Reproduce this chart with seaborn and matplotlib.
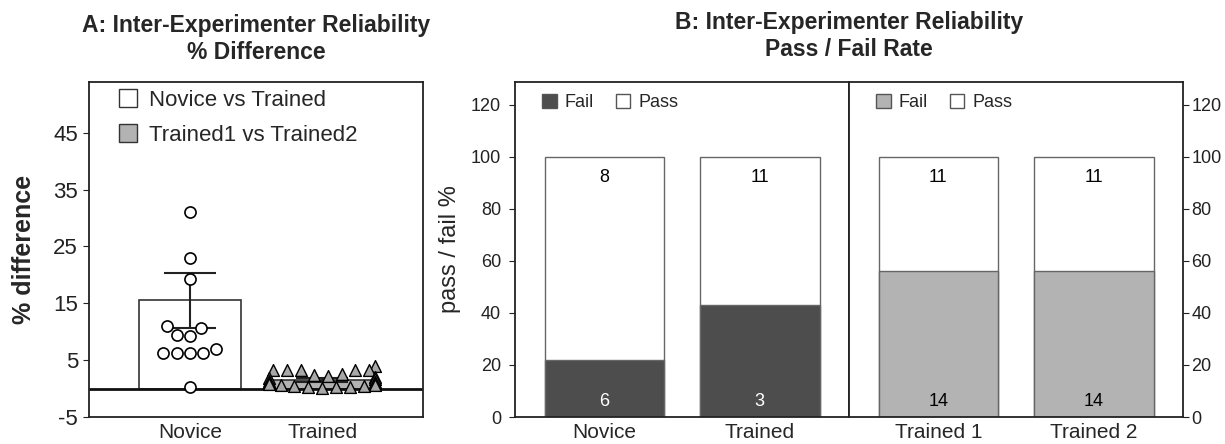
import numpy as np
import pandas as pd
import matplotlib
matplotlib.use('Agg')
import matplotlib.pyplot as plt
from matplotlib.patches import Patch
import seaborn as sns

# panel A data
diff_groups = ['Novice', 'Trained']
diff_mean = [15.5, 1.5]
diff_err = [4.8, 0.3]
novice_vals = [31.0, 23.0, 19.2, 10.6, 11.0, 9.3, 9.5, 6.3, 6.3, 6.3, 6.3, 7.0, 0.2]
trained_vals = [4.0, 3.3, 3.3, 3.2, 3.3, 3.2, 2.6, 2.4, 2.2, 2.0, 1.8, 1.6, 1.4,
                1.2, 1.0, 0.9, 0.8, 0.7, 0.6, 0.5, 0.4, 0.3, 0.3, 0.2, 0.1]

# panel B data
left_groups = ['Novice', 'Trained']
left_fail_pct = [22, 43]
left_pass_pct = [78, 57]
left_fail_n = [6, 3]
left_pass_n = [8, 11]

right_groups = ['Trained 1', 'Trained 2']
right_fail_pct = [56, 56]
right_pass_pct = [44, 44]
right_fail_n = [14, 14]
right_pass_n = [11, 11]

sns.set_style('ticks')
plt.rcParams['font.family'] = ['Liberation Sans', 'DejaVu Sans']
plt.rcParams['axes.unicode_minus'] = False
plt.rcParams['axes.edgecolor'] = '#222222'
plt.rcParams['axes.linewidth'] = 1.3
plt.rcParams['xtick.major.size'] = 0
plt.rcParams['ytick.major.size'] = 4
plt.rcParams['ytick.color'] = '#222222'

fig = plt.figure(figsize=(12.25, 4.44), dpi=100)
axA = fig.add_axes([0.0727, 0.0608, 0.2727, 0.7556])
axB1 = fig.add_axes([0.4204, 0.0608, 0.2727, 0.7556])
axB2 = fig.add_axes([0.6931, 0.0608, 0.2727, 0.7556])

# ---- panel A ----
sns.barplot(x=diff_groups, y=diff_mean, hue=diff_groups, order=diff_groups,
            palette=['white', '#b3b3b3'], legend=False, saturation=1,
            edgecolor='#333333', linewidth=1.2, width=0.77, zorder=1, ax=axA)
axA.errorbar(x=[0, 1], y=diff_mean, yerr=diff_err, fmt='none', ecolor='#222222',
             elinewidth=1.5, capsize=18.5, capthick=1.5, zorder=2)
axA.axhline(0, color='#111111', lw=2, zorder=2)
sns.swarmplot(x=['Novice'] * len(novice_vals), y=novice_vals, order=diff_groups,
              marker='o', color='white', edgecolor='black', linewidth=1.2,
              size=8, zorder=3, ax=axA)
sns.swarmplot(x=['Trained'] * len(trained_vals), y=trained_vals, order=diff_groups,
              marker='^', color='#a8a8a8', edgecolor='black', linewidth=1.0,
              size=8.5, zorder=3, warn_thresh=1, ax=axA)
axA.set_xlim(-0.765, 1.765)
axA.set_ylim(-5, 54)
axA.set_yticks([-5, 5, 15, 25, 35, 45])
axA.tick_params(axis='y', labelsize=16, pad=4)
axA.tick_params(axis='x', labelsize=15, pad=4)
axA.set_ylabel('% difference', fontsize=18, fontweight='bold', labelpad=12)
axA.set_title('A: Inter-Experimenter Reliability\n% Difference',
              fontsize=16.5, fontweight='bold', pad=16, linespacing=1.25)
legA = [Patch(facecolor='white', edgecolor='#333333', label='Novice vs Trained'),
        Patch(facecolor='#b3b3b3', edgecolor='#333333', label='Trained1 vs Trained2')]
axA.legend(handles=legA, loc='upper left', bbox_to_anchor=(0.065, 1.0),
           frameon=False, fontsize=16, handlelength=0.85, handleheight=0.85,
           handletextpad=0.5, labelspacing=0.6, borderaxespad=0.2, borderpad=0.15)


def stacked(ax, groups, fail_pct, pass_pct, fail_n, pass_n, fail_color, fail_text):
    total = [f + p for f, p in zip(fail_pct, pass_pct)]
    sns.barplot(x=groups, y=total, order=groups, color='white', saturation=1,
                edgecolor='#666666', linewidth=1.0, width=0.77, ax=ax)
    sns.barplot(x=groups, y=fail_pct, order=groups, color=fail_color, saturation=1,
                edgecolor='#666666', linewidth=1.0, width=0.77, ax=ax)
    for i in range(len(groups)):
        ax.text(i, 92, str(pass_n[i]), ha='center', va='center', fontsize=13,
                color='black')
        ax.text(i, 6, str(fail_n[i]), ha='center', va='center', fontsize=13,
                color=fail_text)
    ax.set_xlim(-0.575, 1.575)
    ax.set_ylim(0, 129)
    ax.set_yticks([0, 20, 40, 60, 80, 100, 120])
    ax.tick_params(axis='y', labelsize=13)
    ax.tick_params(axis='x', labelsize=15, pad=4)
    handles = [Patch(facecolor=fail_color, edgecolor='#555555', label='Fail'),
               Patch(facecolor='white', edgecolor='#555555', label='Pass')]
    ax.legend(handles=handles, loc='upper left', bbox_to_anchor=(0.06, 0.985),
              ncol=2, frameon=False, fontsize=13, handlelength=0.8,
              handleheight=0.8, handletextpad=0.45, columnspacing=1.2,
              borderaxespad=0.2, borderpad=0.2)


# ---- panel B ----
stacked(axB1, left_groups, left_fail_pct, left_pass_pct, left_fail_n, left_pass_n,
        '#4d4d4d', 'white')
stacked(axB2, right_groups, right_fail_pct, right_pass_pct, right_fail_n, right_pass_n,
        '#b3b3b3', 'black')
axB1.set_ylabel('pass / fail %', fontsize=17, labelpad=7)
axB1.tick_params(axis='y', pad=6)
axB2.yaxis.tick_right()
axB2.tick_params(axis='y', pad=2)
axB2.set_ylabel('')
fig.text(0.6931, 0.862, 'B: Inter-Experimenter Reliability\nPass / Fail Rate',
         ha='center', va='bottom', fontsize=16.5, fontweight='bold', linespacing=1.25)

for ax in [axA, axB1, axB2]:
    ax.set_xlabel('')

fig.savefig('out.png', dpi=100)
